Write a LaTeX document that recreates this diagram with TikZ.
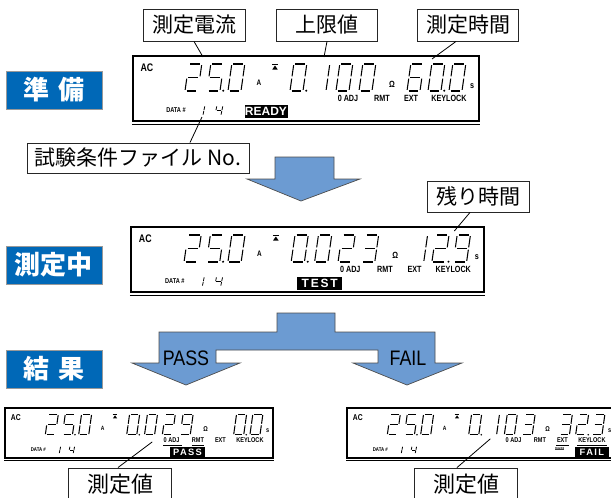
\documentclass[tikz,border=0pt]{standalone}
\usepackage{fontspec}
\newfontfamily\jp{Noto Sans CJK JP}
\newfontfamily\lcdf[FakeStretch=0.8]{Liberation Sans}
\newfontfamily\lcdw{Liberation Sans}
\newfontfamily\lcdsp[LetterSpace=15]{Liberation Sans}
\newfontfamily\arrf[FakeStretch=0.85]{Liberation Sans}
\definecolor{boxblue}{HTML}{0068B7}
\definecolor{arrblue}{HTML}{6C9BD2}
\definecolor{edgegray}{HTML}{4D4D4D}

\tikzset{
 segline/.style={line width=1.05pt, line cap=butt},
 lcdlab/.style={inner sep=0pt, font=\lcdf\bfseries\fontsize{9}{9}\selectfont},
 lbl/.style={draw=black!85, line width=0.9pt, fill=white, inner sep=0pt, font=\jp\fontsize{21}{21}\selectfont},
 bluebox/.style={fill=boxblue, draw=black!40, line width=0.5pt, text=white, inner sep=0pt, minimum width=96pt, minimum height=38pt, font=\jp\bfseries\fontsize{26}{26}\selectfont},
 status/.style={fill=black, text=white, inner sep=0pt, minimum height=13pt, font=\lcdw\bfseries\fontsize{12}{12}\selectfont},
 bigarrow/.style={fill=arrblue, draw=edgegray, line width=0.7pt, line join=miter},
 leader/.style={draw=black, line width=0.8pt},
 arrtext/.style={inner sep=0pt, font=\arrf\fontsize{21}{21}\selectfont},
}

\def\sgA{\draw[segline] (0.12,2)--(0.88,2);}
\def\sgB{\draw[segline] (1,1.92)--(1,1.08);}
\def\sgC{\draw[segline] (1,0.92)--(1,0.08);}
\def\sgD{\draw[segline] (0.12,0)--(0.88,0);}
\def\sgE{\draw[segline] (0,0.08)--(0,0.92);}
\def\sgF{\draw[segline] (0,1.08)--(0,1.92);}
\def\sgG{\draw[segline] (0.12,1)--(0.88,1);}
\def\sgP{\fill (1.25,0.02) circle[radius=1.1pt];}
\newcommand\Dzero{\sgA\sgB\sgC\sgD\sgE\sgF}
\newcommand\Done{\sgB\sgC}
\newcommand\Dtwo{\sgA\sgB\sgG\sgE\sgD}
\newcommand\Dthree{\sgA\sgB\sgG\sgC\sgD}
\newcommand\Dfour{\sgF\sgG\sgB\sgC}
\newcommand\Dfive{\sgA\sgF\sgG\sgC\sgD}
\newcommand\Dsix{\sgA\sgF\sgG\sgE\sgC\sgD}
\newcommand\Dnine{\sgA\sgB\sgC\sgD\sgF\sgG}
\newcommand\bigdig[2]{\begin{scope}[shift={(#1,35)},x=13pt,y=13.5pt,xslant=0.14]#2\end{scope}}
\newcommand\smalldig[2]{\begin{scope}[shift={(#1,59)},x=6pt,y=4.5pt,xslant=0.2,segline/.style={line width=0.8pt}]#2\end{scope}}

\newcommand\lcdbase{%
 \draw[line width=1.5pt] (0,0) rectangle (346,65);
 \draw[line width=0.6pt] (-1,68.5) -- (347,68.5);
 \node[lcdlab, font=\lcdf\bfseries\fontsize{11}{11}\selectfont] (ac) at (14,12) {AC};
 \node[lcdlab, font=\lcdf\bfseries\fontsize{8}{8}\selectfont] (ua) at (126,27) {A};
 \draw[line width=0.8pt] (139,8) -- (145,8);
 \fill (139.3,13.5) -- (144.7,13.5) -- (142,9.5) -- cycle;
 \node[lcdlab] (om) at (259,28) {Ω};
 \node[lcdlab] (us) at (339,30) {s};
 \node[lcdlab] (adj) at (215,42) {0 ADJ};
 \node[lcdlab] (rmt) at (249,42) {RMT};
 \node[lcdlab] (ext) at (278,42) {EXT};
 \node[lcdlab] (key) at (316,42) {KEYLOCK};
 \node[lcdlab, font=\lcdf\bfseries\fontsize{7}{7}\selectfont] (data) at (43,54) {DATA \#};
 \smalldig{64}{\Done}
 \smalldig{82}{\Dfour}
 \bigdig{52}{\Dtwo}
 \bigdig{74}{\Dfive\sgP}
 \bigdig{95}{\Dzero}
}

\begin{document}
\begin{tikzpicture}[x=1pt,y=-1pt]
\fill[white] (0,0) rectangle (611,498);
\useasboundingbox (0,0) rectangle (611,498);

% blue stage boxes
\node[bluebox] (s1) at (54,90) {準\hspace{9pt}備};
\node[bluebox] (s2) at (54,265) {測定中};
\node[bluebox] (s3) at (54,369) {結\hspace{9pt}果};

% LCD 1 : READY
\begin{scope}[shift={(133,56)}, name prefix=La-]
 \lcdbase
 \bigdig{157}{\Dzero\sgP}
 \bigdig{180}{\Done}
 \bigdig{203}{\Dzero}
 \bigdig{226}{\Dzero}
 \bigdig{274}{\Dsix}
 \bigdig{295}{\Dzero\sgP}
 \bigdig{316}{\Dzero}
 \node[status, minimum width=43pt] (st) at (133,55.5) {READY};
 \coordinate (p1) at (70,1);
 \coordinate (p2) at (191,1);
 \coordinate (p3) at (299,3);
 \coordinate (p4) at (69,61);
\end{scope}

% LCD 2 : TEST
\begin{scope}[shift={(131,227)}, xscale=1.02, name prefix=Lb-]
 \lcdbase
 \bigdig{157}{\Dzero\sgP}
 \bigdig{180}{\Dzero}
 \bigdig{203}{\Dtwo}
 \bigdig{226}{\Dthree}
 \bigdig{274}{\Done}
 \bigdig{295}{\Dtwo\sgP}
 \bigdig{316}{\Dnine}
 \node[status, minimum width=45pt, font=\lcdsp\bfseries\fontsize{12}{12}\selectfont] (st) at (185,56.5) {TEST};
 \coordinate (p5) at (317,4);
\end{scope}

% LCD 3 : PASS
\begin{scope}[shift={(5,408)}, xscale=0.775, yscale=0.77, transform shape, name prefix=Lc-]
 \lcdbase
 \bigdig{157}{\Dzero\sgP}
 \bigdig{180}{\Dzero}
 \bigdig{203}{\Dtwo}
 \bigdig{226}{\Dnine}
 \bigdig{295}{\Dzero\sgP}
 \bigdig{316}{\Dzero}
 \draw[line width=0.6pt] (204,48) -- (228,48) (241,48) -- (257,48);
 \node[status, minimum width=44pt, font=\lcdsp\bfseries\fontsize{12}{12}\selectfont] (st) at (235.5,57) {PASS};
 \coordinate (p6) at (190,44);
\end{scope}

% LCD 4 : FAIL
\begin{scope}[shift={(347,408)}, xscale=0.775, yscale=0.77, transform shape, name prefix=Ld-]
 \lcdbase
 \bigdig{157}{\Dzero\sgP}
 \bigdig{180}{\Done}
 \bigdig{203}{\Dzero}
 \bigdig{226}{\Dthree}
 \bigdig{274}{\Dthree}
 \bigdig{295}{\Dtwo\sgP}
 \bigdig{316}{\Dthree}
 \draw[line width=0.6pt] (270,48) -- (286,48) (297,48) -- (335,48);
 \node[fill=black!75, text=white, inner sep=0.6pt, font=\lcdf\bfseries\fontsize{4}{4}\selectfont] (up) at (274,53) {UPPER};
 \node[status, minimum width=44pt, font=\lcdsp\bfseries\fontsize{12}{12}\selectfont] (st) at (316,57) {FAIL};
 \coordinate (p7) at (185,40);
\end{scope}

% label boxes
\node[lbl, minimum width=102pt, minimum height=32pt] (c1) at (194,25) {測定電流};
\node[lbl, minimum width=101pt, minimum height=32pt] (c2) at (327,25) {上限値};
\node[lbl, minimum width=101pt, minimum height=32pt] (c3) at (468,25) {測定時間};
\node[lbl, minimum width=222pt, minimum height=30pt] (c4) at (138,158) {試験条件ファイル No.};
\node[lbl, minimum width=102pt, minimum height=31pt] (c5) at (478,196.5) {残り時間};
\node[lbl, minimum width=103pt, minimum height=32pt, font=\jp\fontsize{22}{22}\selectfont] (c6) at (120,484) {測定値};
\node[lbl, minimum width=103pt, minimum height=32pt, font=\jp\fontsize{22}{22}\selectfont] (c7) at (466,484) {測定値};

% leaders
\draw[leader] (c1.south) -- (La-p1);
\draw[leader] (c2.south) -- (La-p2);
\draw[leader] ([xshift=-12pt]c3.south) -- (La-p3);
\draw[leader] ([xshift=52pt]c4.north) -- (La-p4);
\draw[leader] ([xshift=-8pt]c5.south) -- (Lb-p5);
\draw[leader] ([xshift=-2pt]c6.north) -- (Lc-p6);
\draw[leader] ([xshift=-9pt]c7.north) -- (Ld-p7);

% arrows
\draw[bigarrow] (275,157) -- (334,157) -- (334,179) -- (360,179) -- (301,201) -- (247,179) -- (275,179) -- cycle;
\draw[bigarrow] (277,313) -- (335,313) -- (335,332) -- (435,332) -- (435,363) -- (462,363) -- (407,385) -- (353,363) -- (378,363) -- (378,350) -- (216,350) -- (216,363) -- (240,363) -- (186,385) -- (132,363) -- (159,363) -- (159,332) -- (277,332) -- cycle;
\node[arrtext] (pass) at (186,358) {PASS};
\node[arrtext] (fail) at (408,358) {FAIL};
\end{tikzpicture}
\end{document}
